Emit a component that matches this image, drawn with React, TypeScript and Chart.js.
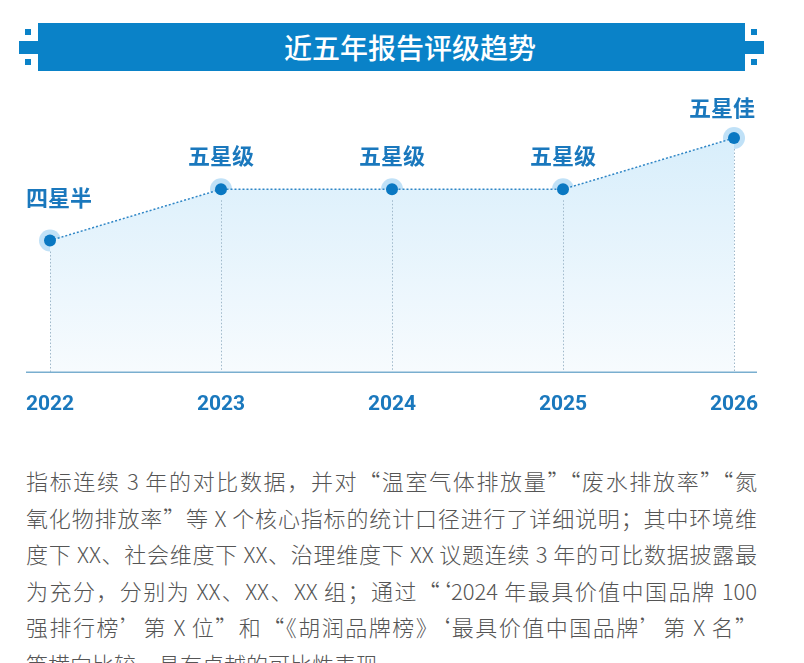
import React, { useEffect, useRef } from "react";
import { Chart, registerables } from "chart.js";

Chart.register(...registerables);

const years = ["2022", "2023", "2024", "2025", "2026"];
const ratings = [4.5, 5, 5, 5, 5.5];
const ratingLabels = ["四星半", "五星级", "五星级", "五星级", "五星佳"];
const titleText = "近五年报告评级趋势";
const paragraphLines = [
  "指标连续 3 年的对比数据，并对“温室气体排放量”“废水排放率”“氮",
  "氧化物排放率”等 X 个核心指标的统计口径进行了详细说明；其中环境维",
  "度下 XX、社会维度下 XX、治理维度下 XX 议题连续 3 年的可比数据披露最",
  "为充分，分别为 XX、XX、XX 组；通过“‘2024 年最具价值中国品牌 100",
  "强排行榜’第 X 位”和“《胡润品牌榜》‘最具价值中国品牌’第 X 名”",
  "等横向比较，具有卓越的可比性表现",
];

const BLUE = "#0a82c8";
const LABEL_BLUE = "#1a78bd";

const labelLift = [43, 34, 34, 34, 30];

const overlayPlugin = {
  id: "overlay",
  afterDatasetsDraw(chart: any) {
    const { ctx, chartArea } = chart;
    const meta = chart.getDatasetMeta(0);
    ctx.save();
    ctx.strokeStyle = "#9fb8ca";
    ctx.lineWidth = 1;
    ctx.setLineDash([1.5, 2]);
    meta.data.forEach((pt: any) => {
      ctx.beginPath();
      ctx.moveTo(Math.round(pt.x) + 0.5, pt.y + 11);
      ctx.lineTo(Math.round(pt.x) + 0.5, chartArea.bottom);
      ctx.stroke();
    });
    ctx.setLineDash([]);
    ctx.strokeStyle = "#79aecf";
    ctx.lineWidth = 1.5;
    ctx.beginPath();
    ctx.moveTo(26, chartArea.bottom + 0.5);
    ctx.lineTo(757, chartArea.bottom + 0.5);
    ctx.stroke();
    ctx.font = 'bold 22px "Noto Sans CJK SC", "Noto Sans", sans-serif';
    ctx.fillStyle = LABEL_BLUE;
    ctx.textBaseline = "middle";
    ctx.textAlign = "center";
    meta.data.forEach((pt: any, i: number) => {
      const text = ratingLabels[i];
      const w = ctx.measureText(text).width;
      let cx = pt.x;
      cx = Math.max(26 + w / 2, Math.min(755 - w / 2, cx));
      ctx.fillText(text, cx, pt.y - labelLift[i]);
    });
    ctx.restore();
  },
};

function ChartBox() {
  const ref = useRef<HTMLCanvasElement | null>(null);
  useEffect(() => {
    if (!ref.current) return;
    const chart = new Chart(ref.current, {
      type: "line",
      data: {
        labels: years,
        datasets: [
          {
            data: ratings,
            borderColor: "#2f86c6",
            borderWidth: 1.5,
            borderDash: [2, 2],
            tension: 0,
            fill: "start",
            backgroundColor: (c: any) => {
              const { chart } = c;
              const area = chart.chartArea;
              if (!area) return "rgba(214,236,250,0.8)";
              const g = chart.ctx.createLinearGradient(0, area.top, 0, area.bottom);
              g.addColorStop(0, "#d8eefb");
              g.addColorStop(1, "#f7fbfe");
              return g;
            },
            pointRadius: 6,
            pointHoverRadius: 6,
            pointBackgroundColor: "#0a78c2",
            pointBorderWidth: 0,
            clip: false,
            order: 1,
          } as any,
          {
            data: ratings,
            showLine: false,
            fill: false,
            pointRadius: 11,
            pointHoverRadius: 11,
            pointBackgroundColor: "rgba(140,200,240,0.55)",
            pointBorderWidth: 0,
            clip: false,
            order: 2,
          } as any,
        ],
      },
      options: {
        animation: false,
        responsive: false,
        devicePixelRatio: 1,
        events: [],
        layout: { padding: { left: 50, right: 70, top: 48, bottom: 3 } },
        plugins: {
          legend: { display: false },
          tooltip: { enabled: false },
        },
        scales: {
          x: {
            offset: false,
            grid: { display: false, drawTicks: false },
            border: { display: false },
            ticks: {
              color: LABEL_BLUE,
              padding: 20,
              font: { family: "Roboto", size: 21, weight: "bold" },
              maxRotation: 0,
            },
          },
          y: {
            display: false,
            min: 3.22,
            max: 5.5,
          },
        },
      },
      plugins: [overlayPlugin],
    });
    return () => chart.destroy();
  }, []);
  return (
    <canvas
      ref={ref}
      width={804}
      height={350}
      style={{ position: "absolute", left: 0, top: 90, width: 804, height: 350 }}
    />
  );
}

function Banner() {
  const sq = (l: number, t: number, w: number, h: number, k: string) => (
    <div key={k} style={{ position: "absolute", left: l, top: t, width: w, height: h, background: BLUE }} />
  );
  return (
    <>
      {sq(38, 23, 707, 48, "main")}
      {sq(19, 41, 19, 13, "lp")}
      {sq(25, 29, 6, 6, "ls1")}
      {sq(25, 59, 6, 6, "ls2")}
      {sq(745, 41, 19, 13, "rp")}
      {sq(751, 29, 6, 6, "rs1")}
      {sq(751, 59, 6, 6, "rs2")}
      <div
        style={{
          position: "absolute",
          left: 8,
          top: 23,
          width: 804,
          height: 48,
          lineHeight: "48px",
          textAlign: "center",
          color: "#ffffff",
          fontFamily: '"Noto Sans CJK SC", sans-serif',
          fontSize: 28,
          fontWeight: 500,
        }}
      >
        {titleText}
      </div>
    </>
  );
}

const QUOTES = "“”‘’";

function renderLine(line: string) {
  const parts: React.ReactNode[] = [];
  let buf = "";
  let k = 0;
  for (const ch of line) {
    if (QUOTES.includes(ch)) {
      if (buf) parts.push(buf);
      buf = "";
      parts.push(
        <span key={k++} style={{ fontFeatureSettings: '"fwid" 1' }}>
          {ch}
        </span>
      );
    } else {
      buf += ch;
    }
  }
  if (buf) parts.push(buf);
  return parts;
}

function Paragraph() {
  return (
    <div
      lang="zh-CN"
      style={{
        position: "absolute",
        left: 26,
        top: 462,
        width: 731,
        fontFamily: '"Noto Sans CJK SC", sans-serif',
        fontSize: 22,
        lineHeight: "36.6px",
        color: "#555555",
        fontWeight: 300,
      }}
    >
      {paragraphLines.map((line, i) => (
        <div
          key={i}
          style={{
            whiteSpace: "nowrap",
            textAlign: "justify",
            textAlignLast: i < paragraphLines.length - 1 ? "justify" : "left",
          }}
        >
          {renderLine(line)}
        </div>
      ))}
    </div>
  );
}

export default function App() {
  return (
    <div
      lang="zh-CN"
      style={{
        position: "absolute",
        left: 0,
        top: 0,
        width: 804,
        height: 663,
        overflow: "hidden",
        background: "#ffffff",
      }}
    >
      <Banner />
      <ChartBox />
      <Paragraph />
    </div>
  );
}
